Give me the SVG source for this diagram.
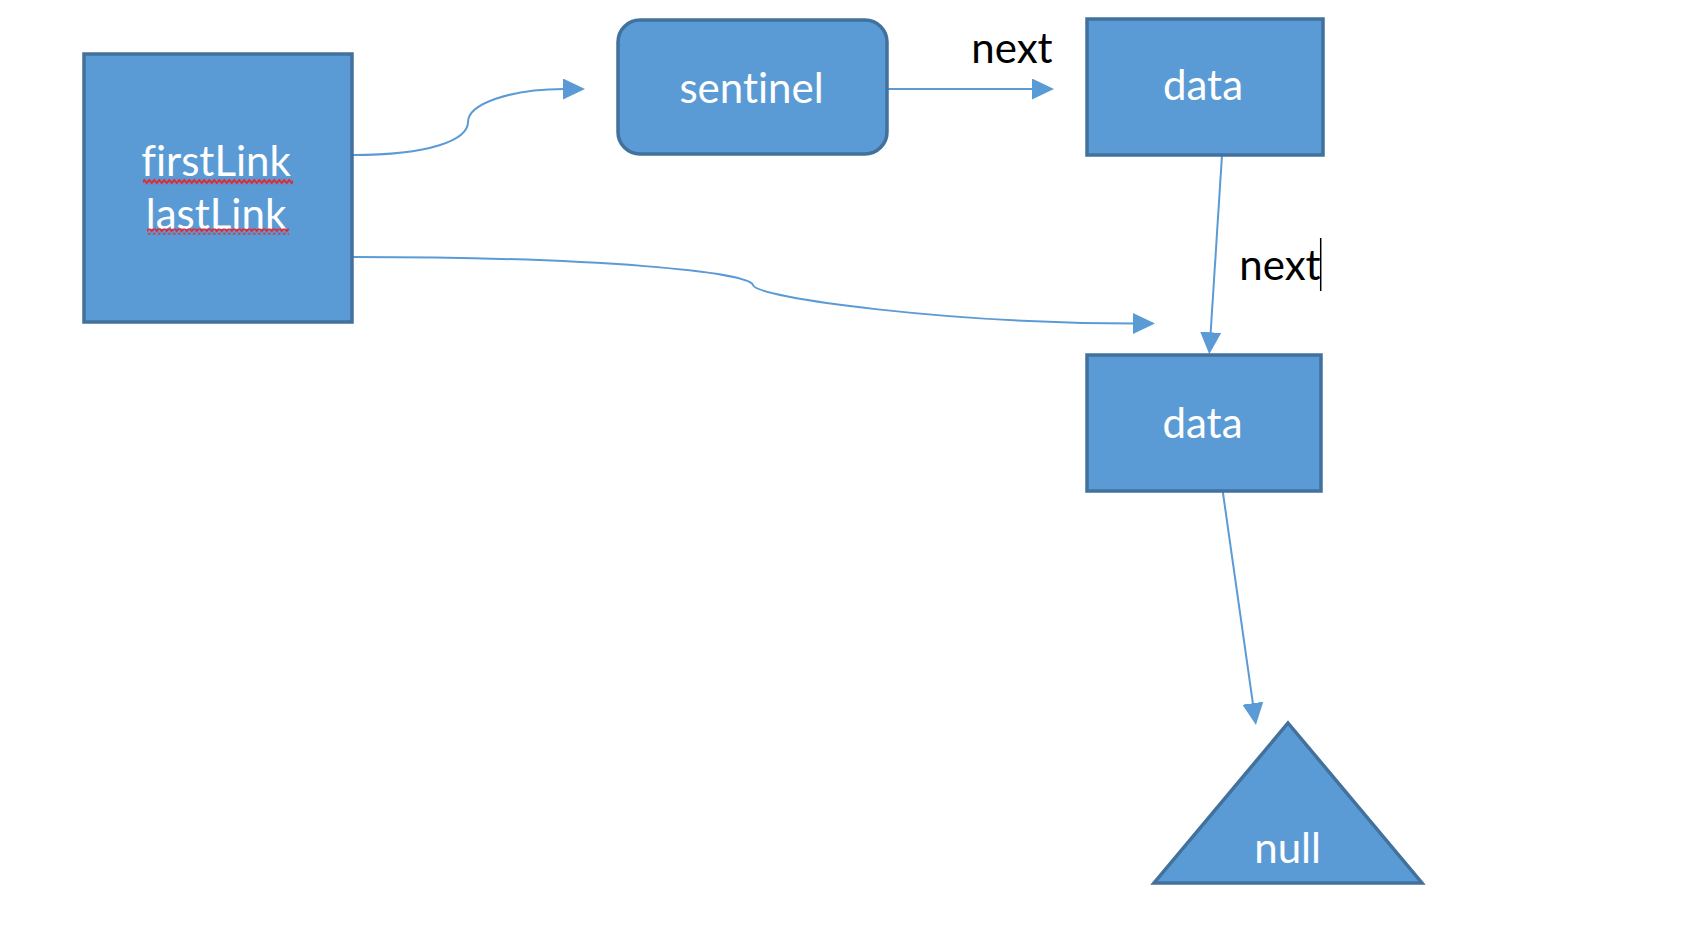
<svg xmlns="http://www.w3.org/2000/svg" width="1696" height="926" viewBox="0 0 1696 926">
  <style>
    .node { fill: #5b9bd5; stroke: #41719c; stroke-width: 3.5; }
    .label { font-family: Lato, "Open Sans", sans-serif; font-size: 42px; fill: #ffffff; text-anchor: middle; font-variant-ligatures: none; }
    .edge-label { font-family: Lato, "Open Sans", sans-serif; font-size: 42px; fill: #000000; text-anchor: middle; }
    .link { fill: none; stroke: #5b9bd5; stroke-width: 2; }
    .squiggle { fill: url(#squiggle); }
  </style>
  <defs>
    <marker id="arrow" viewBox="0 0 22 21" refX="1" refY="10.5" markerWidth="22" markerHeight="21" markerUnits="userSpaceOnUse" orient="auto">
      <path d="M0,0 L22,10.5 L0,21 z" fill="#5b9bd5"/>
    </marker>
    <!-- red wavy spell-check underline -->
    <pattern id="squiggle" x="143" y="178.5" width="5" height="6" patternUnits="userSpaceOnUse">
      <path d="M-1.25,4.5 L1.25,1.5 L3.75,4.5 L6.25,1.5" fill="none" stroke="#ea1f26" stroke-width="1.8"/>
    </pattern>
  </defs>

  <rect width="1696" height="926" fill="#ffffff"/>

  <!-- connectors -->
  <g id="connectors">
    <path class="link" d="M353,155 C430,155 468,140 468,122 C468,104 510,89 564,89" marker-end="url(#arrow)"/>
    <path class="link" d="M887,89 L1033,89" marker-end="url(#arrow)"/>
    <path class="link" d="M1222,155 L1210.6,333.3" marker-end="url(#arrow)"/>
    <path class="link" d="M353,257 C600,257 750,272 753,285 C756,298 950,323.5 1134,323.5" marker-end="url(#arrow)"/>
    <path class="link" d="M1222.7,491 L1253,704.2" marker-end="url(#arrow)"/>
  </g>

  <!-- edge labels -->
  <g id="edge-labels">
    <text class="edge-label" x="1012" y="63">next</text>
    <text class="edge-label" x="1280" y="280">next</text>
    <line x1="1320.7" y1="238" x2="1320.7" y2="291" stroke="#000000" stroke-width="1.5"/>
  </g>

  <!-- head/tail holder -->
  <g id="list">
    <rect class="node" x="84" y="54" width="268" height="268"/>
    <text class="label" x="216" y="176">firstLink</text>
    <text class="label" x="216" y="229">lastLink</text>
    <rect class="squiggle" x="143" y="178.5" width="150" height="6"/>
    <rect class="squiggle" x="147" y="228.5" width="142" height="6"/>
  </g>

  <g id="sentinel">
    <rect class="node" x="618" y="20" width="269" height="134" rx="22" ry="22"/>
    <text class="label" x="751.5" y="102.5">sentinel</text>
  </g>

  <g id="data1">
    <rect class="node" x="1087" y="19" width="236" height="136"/>
    <text class="label" x="1203" y="100.3">data</text>
  </g>

  <g id="data2">
    <rect class="node" x="1087" y="355" width="234" height="136"/>
    <text class="label" x="1202.5" y="437.7">data</text>
  </g>

  <g id="null">
    <polygon class="node" points="1288,723 1422,883 1154,883"/>
    <text class="label" x="1287.6" y="862.5">null</text>
  </g>
</svg>
